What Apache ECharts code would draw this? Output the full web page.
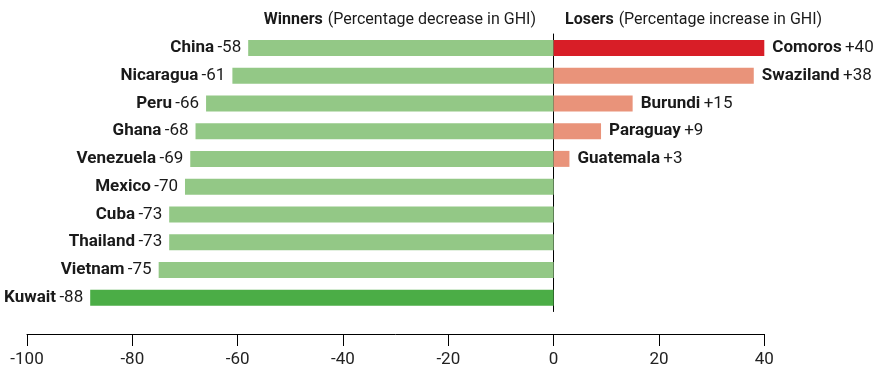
<!DOCTYPE html>
<html>
<head>
<meta charset="utf-8">
<script src="https://cdn.jsdelivr.net/npm/echarts@6/dist/echarts.min.js"></script>
<style>
html,body{margin:0;padding:0;background:#fff;}
#chart{width:873px;height:368px;}
</style>
</head>
<body>
<div id="chart"></div>
<script>
// Data
const winnerNames = ['China','Nicaragua','Peru','Ghana','Venezuela','Mexico','Cuba','Thailand','Vietnam','Kuwait'];
const winnerValues = [-58,-61,-66,-68,-69,-70,-73,-73,-75,-88];
const loserNames = ['Comoros','Swaziland','Burundi','Paraguay','Guatemala'];
const loserValues = [40,38,15,9,3];
const xTicks = [-100,-80,-60,-40,-20,0,20,40];

const FONT = 'Roboto, "Liberation Sans", Arial, sans-serif';
const TXT = '#1a1a1a';

const chart = echarts.init(document.getElementById('chart'), null, {renderer:'canvas'});

const winMax = Math.min(...winnerValues);
const loseMax = Math.max(...loserValues);
const loserData = winnerNames.map((_, i) => i < loserValues.length ? loserValues[i] : '-');

const rich = {
  n: {fontFamily: FONT, fontWeight: 'bold', fontSize: 17, color: TXT},
  v: {fontFamily: FONT, fontWeight: 'normal', fontSize: 17, color: TXT}
};
const titleRich = {
  b: {fontFamily: FONT, fontWeight: 'bold', fontSize: 16, color: TXT, lineHeight: 18},
  r: {fontFamily: FONT, fontWeight: 'normal', fontSize: 16, color: TXT, lineHeight: 18}
};

const option = {
  animation: false,
  backgroundColor: '#ffffff',
  title: [
    {
      text: '{b|Winners} {r|(Percentage decrease in GHI)}',
      right: 337, top: 10.5, padding: 0,
      textStyle: {rich: titleRich}
    },
    {
      text: '{b|Losers} {r|(Percentage increase in GHI)}',
      left: 565, top: 10.5, padding: 0,
      textStyle: {rich: titleRich}
    }
  ],
  grid: {left: 27, right: 108.7, top: 34, bottom: 55.5, containLabel: false},
  xAxis: {
    type: 'value',
    min: xTicks[0], max: xTicks[xTicks.length - 1], interval: 20,
    position: 'bottom', offset: 22.5,
    axisLine: {show: true, lineStyle: {color: '#000', width: 1}},
    axisTick: {show: true, length: 12, inside: false, lineStyle: {color: '#000', width: 1}},
    axisLabel: {fontFamily: FONT, fontSize: 17, color: '#222', margin: 17},
    splitLine: {show: false}
  },
  yAxis: {
    type: 'category',
    data: winnerNames,
    inverse: true,
    axisLine: {show: true, onZero: true, lineStyle: {color: '#000', width: 1}},
    axisTick: {show: false},
    axisLabel: {show: false},
    splitLine: {show: false}
  },
  series: [
    {
      type: 'bar',
      data: winnerValues,
      barWidth: 16,
      barGap: '-100%',
      itemStyle: {
        color: p => p.value === winMax ? '#4bad46' : '#93c886'
      },
      label: {
        show: true, position: 'left', distance: 7,
        formatter: p => '{n|' + winnerNames[p.dataIndex] + '} {v|' + winnerValues[p.dataIndex] + '}',
        rich: rich
      }
    },
    {
      type: 'bar',
      data: loserData,
      barWidth: 16,
      barGap: '-100%',
      itemStyle: {
        color: p => p.value === loseMax ? '#d81e27' : '#e9937a'
      },
      label: {
        show: true, position: 'right', distance: 8,
        formatter: p => '{n|' + loserNames[p.dataIndex] + '} {v|+' + loserValues[p.dataIndex] + '}',
        rich: rich
      }
    }
  ]
};
chart.setOption(option);
</script>
</body>
</html>
